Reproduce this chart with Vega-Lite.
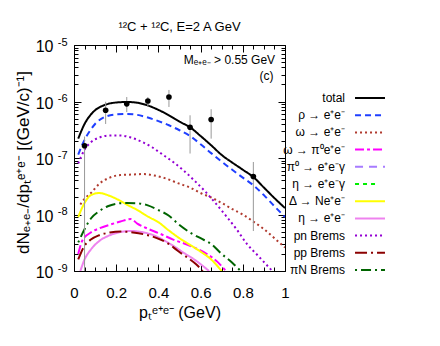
{
  "$schema": "https://vega.github.io/schema/vega-lite/v6.json",
  "width": 211,
  "height": 226,
  "autosize": "none",
  "padding": {"left": 74, "top": 45, "right": 155, "bottom": 75},
  "background": "white",
  "config": {
    "font": "Liberation Sans",
    "view": {"stroke": "black", "strokeWidth": 1},
    "axis": {"domain": false, "grid": false, "tickColor": "black", "tickWidth": 1, "labelColor": "black", "titleColor": "black", "titleFontWeight": "normal", "labelFlush": false, "labelOverlap": false, "labelBound": false}
  },
  "resolve": {"axis": {"x": "independent", "y": "independent"}},
  "datasets": {
    "curves": [
      {"series": "total", "pt": 0.02, "val": 2.2e-7}, {"series": "total", "pt": 0.05, "val": 4.0e-7}, {"series": "total", "pt": 0.08, "val": 5.9e-7}, {"series": "total", "pt": 0.1, "val": 7.0e-7}, {"series": "total", "pt": 0.15, "val": 8.8e-7}, {"series": "total", "pt": 0.2, "val": 9.6e-7}, {"series": "total", "pt": 0.25, "val": 9.8e-7}, {"series": "total", "pt": 0.3, "val": 9.5e-7}, {"series": "total", "pt": 0.35, "val": 8.5e-7}, {"series": "total", "pt": 0.4, "val": 7.1e-7}, {"series": "total", "pt": 0.45, "val": 5.7e-7}, {"series": "total", "pt": 0.5, "val": 4.4e-7}, {"series": "total", "pt": 0.55, "val": 3.5e-7}, {"series": "total", "pt": 0.6, "val": 2.45e-7}, {"series": "total", "pt": 0.65, "val": 1.68e-7}, {"series": "total", "pt": 0.7, "val": 1.13e-7}, {"series": "total", "pt": 0.75, "val": 8.3e-8}, {"series": "total", "pt": 0.8, "val": 6.2e-8}, {"series": "total", "pt": 0.85, "val": 4.6e-8}, {"series": "total", "pt": 0.9, "val": 3.0e-8}, {"series": "total", "pt": 0.95, "val": 1.95e-8}, {"series": "total", "pt": 1.0, "val": 1.3e-8},
      {"series": "ρ → e⁺e⁻", "pt": 0.02, "val": 1.15e-7}, {"series": "ρ → e⁺e⁻", "pt": 0.05, "val": 2.1e-7}, {"series": "ρ → e⁺e⁻", "pt": 0.08, "val": 3.2e-7}, {"series": "ρ → e⁺e⁻", "pt": 0.1, "val": 4.0e-7}, {"series": "ρ → e⁺e⁻", "pt": 0.15, "val": 5.4e-7}, {"series": "ρ → e⁺e⁻", "pt": 0.2, "val": 5.9e-7}, {"series": "ρ → e⁺e⁻", "pt": 0.25, "val": 6.0e-7}, {"series": "ρ → e⁺e⁻", "pt": 0.3, "val": 5.8e-7}, {"series": "ρ → e⁺e⁻", "pt": 0.35, "val": 5.2e-7}, {"series": "ρ → e⁺e⁻", "pt": 0.4, "val": 4.5e-7}, {"series": "ρ → e⁺e⁻", "pt": 0.45, "val": 3.8e-7}, {"series": "ρ → e⁺e⁻", "pt": 0.5, "val": 3.1e-7}, {"series": "ρ → e⁺e⁻", "pt": 0.55, "val": 2.45e-7}, {"series": "ρ → e⁺e⁻", "pt": 0.6, "val": 1.75e-7}, {"series": "ρ → e⁺e⁻", "pt": 0.65, "val": 1.22e-7}, {"series": "ρ → e⁺e⁻", "pt": 0.7, "val": 8.6e-8}, {"series": "ρ → e⁺e⁻", "pt": 0.75, "val": 6.2e-8}, {"series": "ρ → e⁺e⁻", "pt": 0.8, "val": 4.5e-8}, {"series": "ρ → e⁺e⁻", "pt": 0.85, "val": 3.3e-8}, {"series": "ρ → e⁺e⁻", "pt": 0.9, "val": 2.2e-8}, {"series": "ρ → e⁺e⁻", "pt": 0.95, "val": 1.4e-8}, {"series": "ρ → e⁺e⁻", "pt": 1.0, "val": 9e-9},
      {"series": "ω → e⁺e⁻", "pt": 0.03, "val": 1.5e-8}, {"series": "ω → e⁺e⁻", "pt": 0.05, "val": 1.9e-8}, {"series": "ω → e⁺e⁻", "pt": 0.08, "val": 2.4e-8}, {"series": "ω → e⁺e⁻", "pt": 0.12, "val": 3.5e-8}, {"series": "ω → e⁺e⁻", "pt": 0.17, "val": 4.5e-8}, {"series": "ω → e⁺e⁻", "pt": 0.22, "val": 5.0e-8}, {"series": "ω → e⁺e⁻", "pt": 0.28, "val": 5.1e-8}, {"series": "ω → e⁺e⁻", "pt": 0.33, "val": 5.2e-8}, {"series": "ω → e⁺e⁻", "pt": 0.38, "val": 4.9e-8}, {"series": "ω → e⁺e⁻", "pt": 0.43, "val": 4.4e-8}, {"series": "ω → e⁺e⁻", "pt": 0.5, "val": 3.5e-8}, {"series": "ω → e⁺e⁻", "pt": 0.55, "val": 3.0e-8}, {"series": "ω → e⁺e⁻", "pt": 0.6, "val": 2.4e-8}, {"series": "ω → e⁺e⁻", "pt": 0.65, "val": 2.0e-8}, {"series": "ω → e⁺e⁻", "pt": 0.7, "val": 1.6e-8}, {"series": "ω → e⁺e⁻", "pt": 0.75, "val": 1.25e-8}, {"series": "ω → e⁺e⁻", "pt": 0.8, "val": 1.0e-8}, {"series": "ω → e⁺e⁻", "pt": 0.85, "val": 7.5e-9}, {"series": "ω → e⁺e⁻", "pt": 0.9, "val": 5.5e-9}, {"series": "ω → e⁺e⁻", "pt": 0.95, "val": 3.8e-9}, {"series": "ω → e⁺e⁻", "pt": 1.0, "val": 2.6e-9},
      {"series": "ω → π⁰e⁺e⁻", "pt": 0.02, "val": 2.0e-9}, {"series": "ω → π⁰e⁺e⁻", "pt": 0.04, "val": 3.5e-9}, {"series": "ω → π⁰e⁺e⁻", "pt": 0.08, "val": 4.8e-9}, {"series": "ω → π⁰e⁺e⁻", "pt": 0.12, "val": 5.7e-9}, {"series": "ω → π⁰e⁺e⁻", "pt": 0.17, "val": 6.6e-9}, {"series": "ω → π⁰e⁺e⁻", "pt": 0.22, "val": 7.5e-9}, {"series": "ω → π⁰e⁺e⁻", "pt": 0.27, "val": 8.3e-9}, {"series": "ω → π⁰e⁺e⁻", "pt": 0.3, "val": 6.9e-9}, {"series": "ω → π⁰e⁺e⁻", "pt": 0.35, "val": 5.6e-9}, {"series": "ω → π⁰e⁺e⁻", "pt": 0.4, "val": 4.7e-9}, {"series": "ω → π⁰e⁺e⁻", "pt": 0.47, "val": 3.6e-9}, {"series": "ω → π⁰e⁺e⁻", "pt": 0.55, "val": 2.8e-9}, {"series": "ω → π⁰e⁺e⁻", "pt": 0.63, "val": 2.0e-9}, {"series": "ω → π⁰e⁺e⁻", "pt": 0.68, "val": 1.45e-9}, {"series": "ω → π⁰e⁺e⁻", "pt": 0.72, "val": 1.0e-9},
      {"series": "Δ → Ne⁺e⁻", "pt": 0.02, "val": 9e-9}, {"series": "Δ → Ne⁺e⁻", "pt": 0.05, "val": 1.6e-8}, {"series": "Δ → Ne⁺e⁻", "pt": 0.08, "val": 2.2e-8}, {"series": "Δ → Ne⁺e⁻", "pt": 0.12, "val": 2.4e-8}, {"series": "Δ → Ne⁺e⁻", "pt": 0.16, "val": 2.2e-8}, {"series": "Δ → Ne⁺e⁻", "pt": 0.2, "val": 1.9e-8}, {"series": "Δ → Ne⁺e⁻", "pt": 0.25, "val": 1.5e-8}, {"series": "Δ → Ne⁺e⁻", "pt": 0.3, "val": 1.2e-8}, {"series": "Δ → Ne⁺e⁻", "pt": 0.35, "val": 9.2e-9}, {"series": "Δ → Ne⁺e⁻", "pt": 0.4, "val": 7.3e-9}, {"series": "Δ → Ne⁺e⁻", "pt": 0.45, "val": 5.2e-9}, {"series": "Δ → Ne⁺e⁻", "pt": 0.5, "val": 3.8e-9}, {"series": "Δ → Ne⁺e⁻", "pt": 0.55, "val": 2.9e-9}, {"series": "Δ → Ne⁺e⁻", "pt": 0.6, "val": 2.2e-9}, {"series": "Δ → Ne⁺e⁻", "pt": 0.65, "val": 1.6e-9}, {"series": "Δ → Ne⁺e⁻", "pt": 0.7, "val": 1.0e-9},
      {"series": "η → e⁺e⁻", "pt": 0.03, "val": 1.0e-9}, {"series": "η → e⁺e⁻", "pt": 0.05, "val": 1.6e-9}, {"series": "η → e⁺e⁻", "pt": 0.08, "val": 2.4e-9}, {"series": "η → e⁺e⁻", "pt": 0.12, "val": 3.4e-9}, {"series": "η → e⁺e⁻", "pt": 0.17, "val": 4.3e-9}, {"series": "η → e⁺e⁻", "pt": 0.22, "val": 4.9e-9}, {"series": "η → e⁺e⁻", "pt": 0.27, "val": 5.1e-9}, {"series": "η → e⁺e⁻", "pt": 0.32, "val": 4.9e-9}, {"series": "η → e⁺e⁻", "pt": 0.37, "val": 4.4e-9}, {"series": "η → e⁺e⁻", "pt": 0.42, "val": 3.6e-9}, {"series": "η → e⁺e⁻", "pt": 0.47, "val": 2.8e-9}, {"series": "η → e⁺e⁻", "pt": 0.52, "val": 2.1e-9}, {"series": "η → e⁺e⁻", "pt": 0.57, "val": 1.6e-9}, {"series": "η → e⁺e⁻", "pt": 0.64, "val": 1.0e-9},
      {"series": "pn Brems", "pt": 0.02, "val": 8e-8}, {"series": "pn Brems", "pt": 0.05, "val": 1.4e-7}, {"series": "pn Brems", "pt": 0.08, "val": 1.9e-7}, {"series": "pn Brems", "pt": 0.12, "val": 2.3e-7}, {"series": "pn Brems", "pt": 0.17, "val": 2.5e-7}, {"series": "pn Brems", "pt": 0.22, "val": 2.5e-7}, {"series": "pn Brems", "pt": 0.27, "val": 2.3e-7}, {"series": "pn Brems", "pt": 0.32, "val": 1.95e-7}, {"series": "pn Brems", "pt": 0.37, "val": 1.55e-7}, {"series": "pn Brems", "pt": 0.42, "val": 1.15e-7}, {"series": "pn Brems", "pt": 0.47, "val": 8.5e-8}, {"series": "pn Brems", "pt": 0.52, "val": 6.0e-8}, {"series": "pn Brems", "pt": 0.57, "val": 4.0e-8}, {"series": "pn Brems", "pt": 0.62, "val": 2.6e-8}, {"series": "pn Brems", "pt": 0.67, "val": 1.6e-8}, {"series": "pn Brems", "pt": 0.72, "val": 9.5e-9}, {"series": "pn Brems", "pt": 0.77, "val": 5.5e-9}, {"series": "pn Brems", "pt": 0.82, "val": 3.0e-9}, {"series": "pn Brems", "pt": 0.87, "val": 1.9e-9}, {"series": "pn Brems", "pt": 0.94, "val": 1.0e-9},
      {"series": "pp Brems", "pt": 0.02, "val": 1.6e-9}, {"series": "pp Brems", "pt": 0.05, "val": 2.8e-9}, {"series": "pp Brems", "pt": 0.08, "val": 3.6e-9}, {"series": "pp Brems", "pt": 0.12, "val": 4.3e-9}, {"series": "pp Brems", "pt": 0.17, "val": 4.8e-9}, {"series": "pp Brems", "pt": 0.22, "val": 5.0e-9}, {"series": "pp Brems", "pt": 0.28, "val": 4.8e-9}, {"series": "pp Brems", "pt": 0.35, "val": 4.3e-9}, {"series": "pp Brems", "pt": 0.41, "val": 3.6e-9}, {"series": "pp Brems", "pt": 0.45, "val": 3.0e-9}, {"series": "pp Brems", "pt": 0.49, "val": 2.3e-9}, {"series": "pp Brems", "pt": 0.54, "val": 1.7e-9}, {"series": "pp Brems", "pt": 0.58, "val": 1.3e-9}, {"series": "pp Brems", "pt": 0.61, "val": 1.0e-9},
      {"series": "πN Brems", "pt": 0.02, "val": 3.2e-9}, {"series": "πN Brems", "pt": 0.05, "val": 5.5e-9}, {"series": "πN Brems", "pt": 0.08, "val": 8.5e-9}, {"series": "πN Brems", "pt": 0.12, "val": 1.15e-8}, {"series": "πN Brems", "pt": 0.16, "val": 1.4e-8}, {"series": "πN Brems", "pt": 0.2, "val": 1.55e-8}, {"series": "πN Brems", "pt": 0.25, "val": 1.6e-8}, {"series": "πN Brems", "pt": 0.3, "val": 1.58e-8}, {"series": "πN Brems", "pt": 0.35, "val": 1.45e-8}, {"series": "πN Brems", "pt": 0.4, "val": 1.2e-8}, {"series": "πN Brems", "pt": 0.45, "val": 9.5e-9}, {"series": "πN Brems", "pt": 0.5, "val": 6.5e-9}, {"series": "πN Brems", "pt": 0.55, "val": 4.8e-9}, {"series": "πN Brems", "pt": 0.6, "val": 3.8e-9}, {"series": "πN Brems", "pt": 0.65, "val": 3.0e-9}, {"series": "πN Brems", "pt": 0.7, "val": 2.0e-9}, {"series": "πN Brems", "pt": 0.75, "val": 1.4e-9}, {"series": "πN Brems", "pt": 0.79, "val": 1.0e-9}
    ],
    "points": [
      {"pt": 0.05, "val": 1.65e-7, "lo": 5e-10, "hi": 2.4e-7},
      {"pt": 0.15, "val": 7.0e-7, "lo": 4.0e-7, "hi": 9.9e-7},
      {"pt": 0.25, "val": 9.1e-7, "lo": 6.5e-7, "hi": 1.2e-6},
      {"pt": 0.35, "val": 1.02e-6, "lo": 8.0e-7, "hi": 1.2e-6},
      {"pt": 0.45, "val": 1.2e-6, "lo": 8.0e-7, "hi": 1.6e-6},
      {"pt": 0.55, "val": 3.5e-7, "lo": 1.2e-7, "hi": 5.7e-7},
      {"pt": 0.65, "val": 4.8e-7, "lo": 2.2e-7, "hi": 7.3e-7},
      {"pt": 0.85, "val": 4.7e-8, "lo": 5.1e-9, "hi": 8.5e-8}
    ],
    "notes": [
      {"pt": 0.953, "val": 5.4e-6, "label": "Mₑ₊ₑ₋ > 0.55 GeV"},
      {"pt": 0.945, "val": 2.8e-6, "label": "(c)"}
    ],
    "heading": [
      {"pt": 0.5, "val": 2.1e-5, "label": "¹²C + ¹²C, E=2 A GeV"}
    ]
  },
  "layer": [
    {
      "data": {"name": "curves"},
      "mark": {"type": "line", "strokeWidth": 2, "clip": true, "interpolate": "monotone"},
      "encoding": {
        "x": {"field": "pt", "type": "quantitative", "scale": {"domain": [0, 1], "nice": false, "zero": false},
          "axis": {"orient": "bottom", "values": [0, 0.2, 0.4, 0.6, 0.8, 1], "format": ".1~f", "tickSize": -7, "labelPadding": 21, "labelFontSize": 15, "title": "pₜᵉ⁺ᵉ⁻ (GeV)", "titleFontSize": 16, "titlePadding": 4}},
        "y": {"field": "val", "type": "quantitative", "scale": {"type": "log", "domain": [1e-9, 1e-5], "nice": false},
          "axis": {"orient": "left", "values": [1e-9, 1e-8, 1e-7, 1e-6, 1e-5], "labelExpr": "'10'", "tickSize": -7, "labelPadding": 28, "labelOffset": 1.5, "labelFontSize": 16, "title": "dNₑ₊ₑ₋/dpₜᵉ⁺ᵉ⁻ [(GeV/c)⁻¹]", "titleFontSize": 17, "titlePadding": 3, "titleY": 117}},
        "color": {"field": "series", "type": "nominal",
          "scale": {"domain": ["total", "ρ → e⁺e⁻", "ω → e⁺e⁻", "ω → π⁰e⁺e⁻", "π⁰ → e⁺e⁻γ", "η → e⁺e⁻γ", "Δ → Ne⁺e⁻", "η → e⁺e⁻", "pn Brems", "pp Brems", "πN Brems"],
            "range": ["#000000", "#1f3fff", "#b03a2e", "#ff00ff", "#a77bff", "#00ee00", "#ffff00", "#ee82ee", "#9400d3", "#8b0000", "#006400"]},
          "legend": {"orient": "none", "legendX": 288, "legendY": 45, "title": null, "symbolType": "M-2.14,0H2.14", "symbolSize": 196, "symbolStrokeWidth": 2, "labelAlign": "right", "labelOffset": -33, "labelFontSize": 12, "labelColor": "black", "rowPadding": 3.2, "labelLimit": 0, "padding": 0}},
        "strokeDash": {"field": "series", "type": "nominal",
          "scale": {"domain": ["total", "ρ → e⁺e⁻", "ω → e⁺e⁻", "ω → π⁰e⁺e⁻", "π⁰ → e⁺e⁻γ", "η → e⁺e⁻γ", "Δ → Ne⁺e⁻", "η → e⁺e⁻", "pn Brems", "pp Brems", "πN Brems"],
            "range": [[1, 0], [6, 4], [2, 3], [9, 3, 3, 3], [8, 6], [4, 4, 4, 4, 4, 14], [1, 0], [1, 0], [2, 3], [12, 4, 2, 4], [2, 4, 10, 4]]},
          "legend": {"orient": "none", "legendX": 288, "legendY": 45, "title": null, "symbolType": "M-2.14,0H2.14", "symbolSize": 196, "symbolStrokeWidth": 2, "labelAlign": "right", "labelOffset": -33, "labelFontSize": 12, "labelColor": "black", "rowPadding": 3.2, "labelLimit": 0, "padding": 0}}
      }
    },
    {
      "data": {"name": "points"},
      "mark": {"type": "rule", "color": "#999999", "strokeWidth": 1, "clip": true},
      "encoding": {
        "x": {"field": "pt", "type": "quantitative", "scale": {"domain": [0, 1], "nice": false, "zero": false},
          "axis": {"orient": "top", "values": [0, 0.2, 0.4, 0.6, 0.8, 1], "labels": false, "tickSize": -7, "title": null}},
        "y": {"field": "lo", "type": "quantitative", "scale": {"type": "log", "domain": [1e-9, 1e-5], "nice": false},
          "axis": {"orient": "right", "values": [1e-9, 1e-8, 1e-7, 1e-6, 1e-5], "labels": false, "tickSize": -7, "title": null}},
        "y2": {"field": "hi"}
      }
    },
    {
      "data": {"name": "points"},
      "mark": {"type": "circle", "color": "black", "opacity": 1, "size": 32},
      "encoding": {
        "x": {"field": "pt", "type": "quantitative", "scale": {"domain": [0, 1], "nice": false, "zero": false},
          "axis": {"orient": "bottom", "values": [0.05, 0.1, 0.15, 0.25, 0.3, 0.35, 0.45, 0.5, 0.55, 0.65, 0.7, 0.75, 0.85, 0.9, 0.95], "labels": false, "tickSize": -4, "title": null}},
        "y": {"field": "val", "type": "quantitative", "scale": {"type": "log", "domain": [1e-9, 1e-5], "nice": false},
          "axis": {"orient": "left", "values": [2e-9, 3e-9, 4e-9, 5e-9, 6e-9, 7e-9, 8e-9, 9e-9, 2e-8, 3e-8, 4e-8, 5e-8, 6e-8, 7e-8, 8e-8, 9e-8, 2e-7, 3e-7, 4e-7, 5e-7, 6e-7, 7e-7, 8e-7, 9e-7, 2e-6, 3e-6, 4e-6, 5e-6, 6e-6, 7e-6, 8e-6, 9e-6], "labels": false, "tickSize": -4, "title": null}}
      }
    },
    {
      "data": {"name": "notes"},
      "mark": {"type": "text", "align": "right", "baseline": "middle", "fontSize": 12, "color": "black"},
      "encoding": {
        "x": {"field": "pt", "type": "quantitative", "scale": {"domain": [0, 1], "nice": false, "zero": false},
          "axis": {"orient": "top", "values": [0.05, 0.1, 0.15, 0.25, 0.3, 0.35, 0.45, 0.5, 0.55, 0.65, 0.7, 0.75, 0.85, 0.9, 0.95], "labels": false, "tickSize": -4, "title": null}},
        "y": {"field": "val", "type": "quantitative", "scale": {"type": "log", "domain": [1e-9, 1e-5], "nice": false},
          "axis": {"orient": "right", "values": [2e-9, 3e-9, 4e-9, 5e-9, 6e-9, 7e-9, 8e-9, 9e-9, 2e-8, 3e-8, 4e-8, 5e-8, 6e-8, 7e-8, 8e-8, 9e-8, 2e-7, 3e-7, 4e-7, 5e-7, 6e-7, 7e-7, 8e-7, 9e-7, 2e-6, 3e-6, 4e-6, 5e-6, 6e-6, 7e-6, 8e-6, 9e-6], "labels": false, "tickSize": -4, "title": null}},
        "text": {"field": "label", "type": "nominal"}
      }
    },
    {
      "data": {"name": "points"},
      "mark": {"type": "point", "opacity": 0},
      "encoding": {
        "y": {"field": "val", "type": "quantitative", "scale": {"type": "log", "domain": [1e-9, 1e-5], "nice": false},
          "axis": {"orient": "left", "values": [1e-9, 1e-8, 1e-7, 1e-6, 1e-5], "labelExpr": "'-' + round(-log(datum.value)/LN10)", "ticks": false, "labelPadding": 7, "labelOffset": -3, "labelFontSize": 11, "labelAlign": "right", "title": null}}
      }
    },
    {
      "data": {"name": "heading"},
      "mark": {"type": "text", "align": "center", "baseline": "middle", "fontSize": 13, "color": "black", "clip": false},
      "encoding": {
        "x": {"field": "pt", "type": "quantitative", "scale": {"domain": [0, 1], "nice": false, "zero": false}, "axis": null},
        "y": {"field": "val", "type": "quantitative", "scale": {"type": "log", "domain": [1e-9, 1e-5], "nice": false}, "axis": null},
        "text": {"field": "label", "type": "nominal"}
      }
    }
  ]
}
